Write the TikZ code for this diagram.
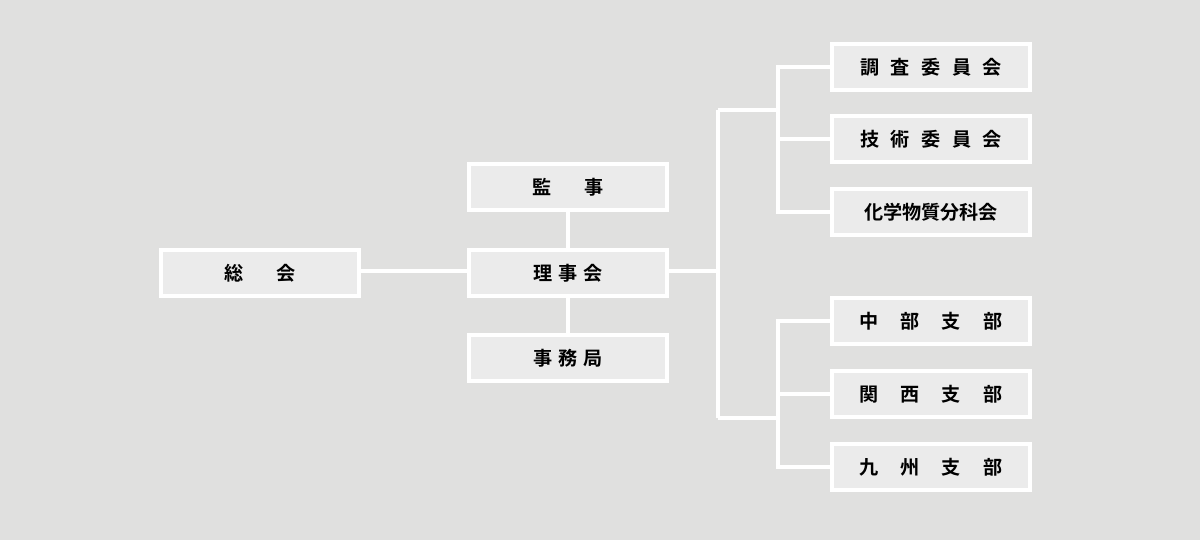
\documentclass[tikz,border=0pt]{standalone}
\usepackage{fontspec}
\newfontfamily\jp{Noto Sans CJK JP Bold}
\usetikzlibrary{positioning, shadows, backgrounds}
\definecolor{bgc}{HTML}{E0E0DF}
\definecolor{boxc}{HTML}{EBEBEB}
\begin{document}
\begin{tikzpicture}[x=0.025cm, y=-0.025cm]
    % Styles
    \tikzstyle{org} = [rectangle, draw=white, line width=2.2pt, fill=boxc, minimum width=4.95cm, minimum height=1.15cm, font=\jp\fontsize{13.6}{15}\selectfont, drop shadow={shadow xshift=0.3pt, shadow yshift=-0.3pt, opacity=0.12}]
    \tikzstyle{link} = [draw=white, line width=2.2pt]

    % Nodes
    \node[org] (sokai) at (260,273) {総\hspace{1.75em}会};
    \node[org] (rijikai) at (568,273) {理\hspace{0.3em}事\hspace{0.3em}会};
    \node[org] (kanji) at (568,187) {監\hspace{1.75em}事};
    \node[org] (jimu) at (568,358) {事\hspace{0.3em}務\hspace{0.3em}局};
    \node[org] (chosa) at (931,67) {調\hspace{0.6em}査\hspace{0.6em}委\hspace{0.6em}員\hspace{0.6em}会};
    \node[org] (gijutsu) at (931,139) {技\hspace{0.6em}術\hspace{0.6em}委\hspace{0.6em}員\hspace{0.6em}会};
    \node[org] (kagaku) at (931,212) {化学物質分科会};
    \node[org] (chubu) at (931,321) {中\hspace{1.15em}部\hspace{1.15em}支\hspace{1.15em}部};
    \node[org] (kansai) at (931,394) {関\hspace{1.15em}西\hspace{1.15em}支\hspace{1.15em}部};
    \node[org] (kyushu) at (931,467) {九\hspace{1.15em}州\hspace{1.15em}支\hspace{1.15em}部};

    % Junctions
    \coordinate (mid) at (718,271);
    \coordinate (up) at (718,110);
    \coordinate (down) at (718,418);
    \coordinate (upbar) at (778,110);
    \coordinate (downbar) at (778,418);

    % Edges
    \begin{scope}[on background layer]
        \fill[bgc] (0,0) rectangle (1200,540);
        \draw[link] (sokai.east |- mid) -- (rijikai.west |- mid);
        \draw[link] (kanji) -- (rijikai) -- (jimu);
        \draw[link] (rijikai.east |- mid) -- (mid);
        \draw[link] (up) -- (down);
        \draw[link] (up) -- (upbar);
        \draw[link] (down) -- (downbar);
        \draw[link] (chosa.west) -| (upbar |- kagaku) -- (kagaku.west);
        \draw[link] (upbar |- gijutsu) -- (gijutsu.west);
        \draw[link] (chubu.west) -| (downbar |- kyushu) -- (kyushu.west);
        \draw[link] (downbar |- kansai) -- (kansai.west);
    \end{scope}
    \useasboundingbox (0,0) rectangle (1200,540);
\end{tikzpicture}
\end{document}
